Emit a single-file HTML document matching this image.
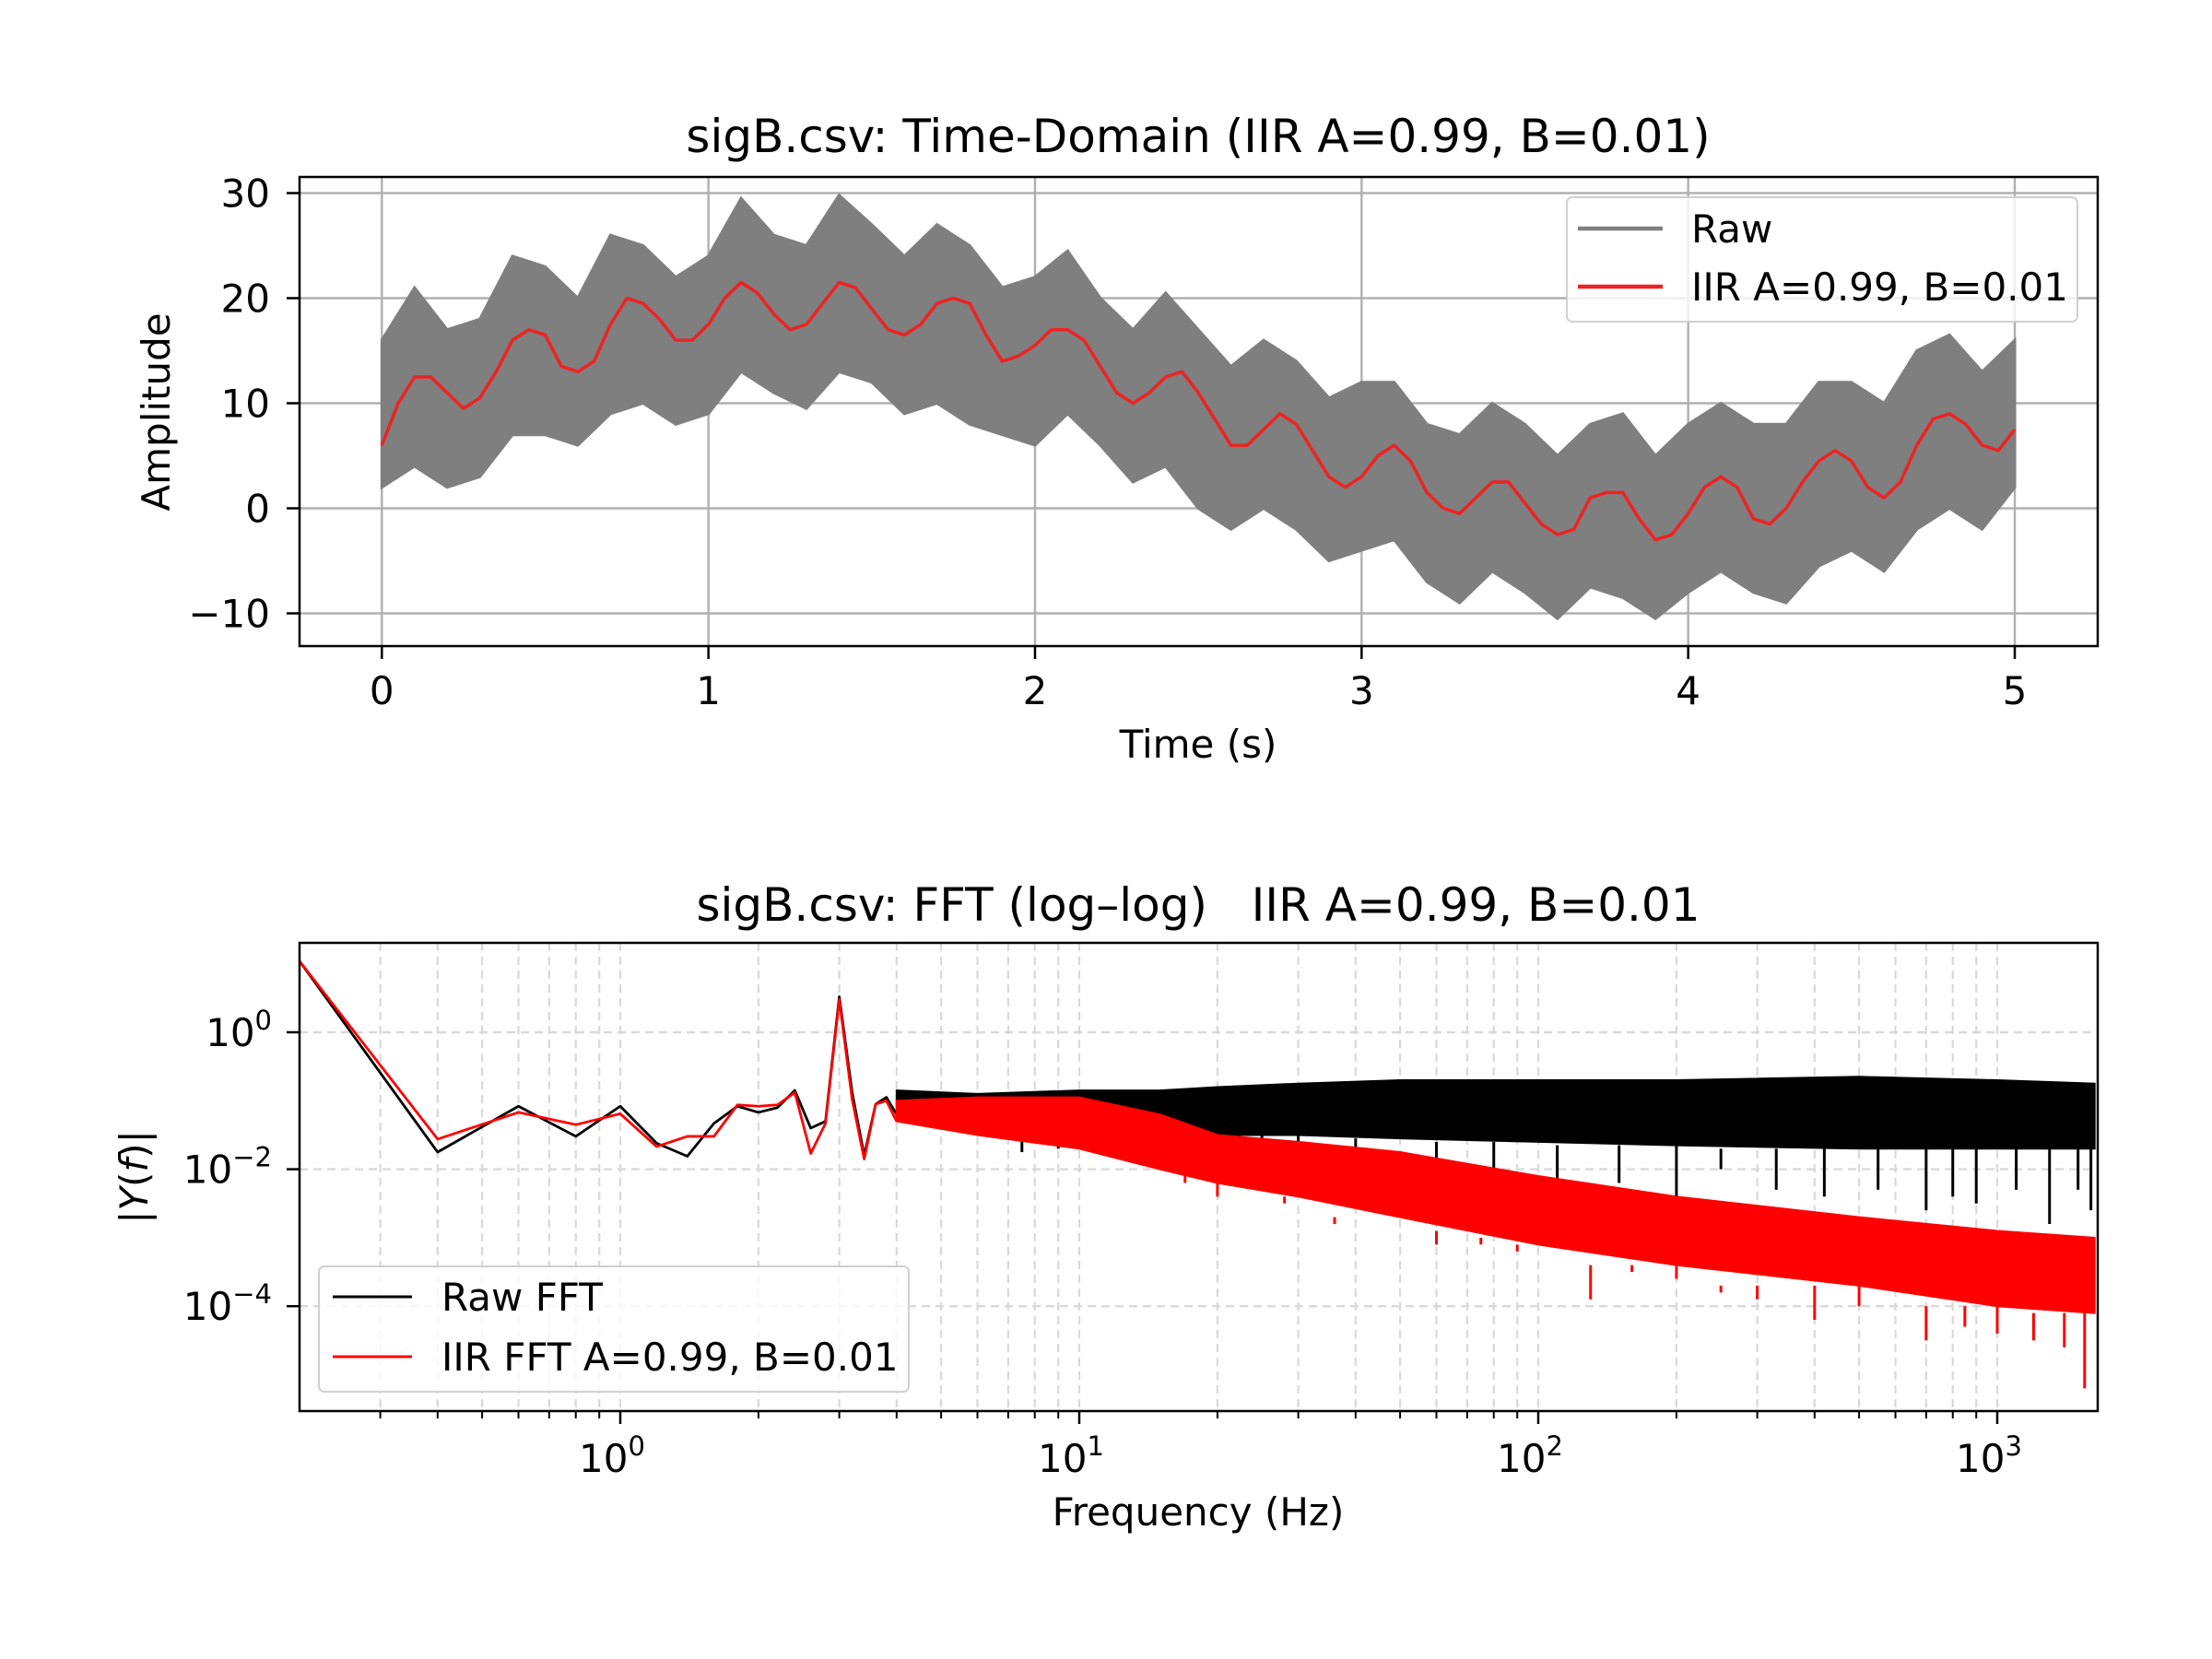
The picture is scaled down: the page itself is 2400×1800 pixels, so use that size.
<!DOCTYPE html>
<html><head><meta charset="utf-8"><style>
html,body{margin:0;padding:0;background:#fff}
svg{display:block;font-family:"DejaVu Sans","Liberation Sans",sans-serif}
</style></head><body>
<svg id="fig" width="2400" height="1800" viewBox="0 0 2400 1800" xmlns="http://www.w3.org/2000/svg">
<rect width="2400" height="1800" fill="#fff"/>
<g id="topchart"></g>
<g id="botchart"></g>
</svg>
<script>
// ---------- time-domain data ----------
const timeTicks = [0,1,2,3,4,5];
const ampTicks = [30,20,10,0,-10];
const iirStep = 0.05;
const iirValues = [6,10,12.5,12.5,11,9.5,10.5,13,16,17,16.5,13.5,13,14,17.5,20,19.5,18,16,16,17.5,20,21.5,20.5,18.5,17,17.5,19.5,21.5,21,19,17,16.5,17.5,19.5,20,19.5,16.5,14,14.5,15.5,17,17,16,13.5,11,10,11,12.5,13,11,8.5,6,6,7.5,9,8,5.5,3,2,3,5,6,4.5,1.5,0,-0.5,1,2.5,2.5,0.5,-1.5,-2.5,-2,1,1.5,1.5,-1,-3,-2.5,-0.5,2,3,2,-1,-1.5,0,2.5,4.5,5.5,4.5,2,1,2.5,6,8.5,9,8,6,5.5,7.5];
const rawStep = 0.1;
const rawUpper = [16,21,17,18,24,23,20,26,25,22,24,29.5,26,25,29.8,27,24,27,25,21,22,24.5,20,17,20.5,17,13.5,16,14,10.5,12,12,8,7,10,8,5,8,9,5,8,10,8,8,12,12,10,15,16.5,13,16];
const rawLower = [2,4,2,3,7,7,6,9,10,8,9,13,11,9.5,13,12,9,10,8,7,6,9,6,2.5,4,0,-2,0,-2,-5,-4,-3,-7,-9,-6,-8,-10.5,-7.5,-8.5,-10.5,-8,-6,-8,-9,-5.5,-4,-6,-2,0,-2,2];

// ---------- FFT data (log10 magnitudes) ----------
const freqTicks = [0,1,2,3];
const magTicks = [0,-2,-4];
const lowFreqs = [0.2,0.4,0.6,0.8,1.0,1.2,1.4,1.6,1.8,2.0,2.2,2.4,2.6,2.8,3.0,3.2,3.4,3.6,3.8,4.0];
const rawLow = [1.04,-1.75,-1.08,-1.52,-1.08,-1.62,-1.81,-1.33,-1.08,-1.17,-1.1,-0.85,-1.4,-1.3,0.52,-0.88,-1.8,-1.05,-0.95,-1.2];
const iirLow = [1.04,-1.56,-1.17,-1.35,-1.19,-1.67,-1.52,-1.52,-1.06,-1.08,-1.06,-0.88,-1.77,-1.33,0.48,-0.98,-1.85,-1.05,-1.0,-1.3];
const bandFreqs = [4,6,10,15,20,30,50,100,200,500,1000,1630];
const rawBandTop = [-0.85,-0.9,-0.85,-0.85,-0.8,-0.75,-0.7,-0.7,-0.7,-0.65,-0.7,-0.75];
const rawBandBottom = [-1.3,-1.35,-1.45,-1.45,-1.5,-1.5,-1.55,-1.6,-1.65,-1.7,-1.7,-1.7];
const iirBandTop = [-1.0,-0.95,-0.95,-1.2,-1.5,-1.6,-1.75,-2.1,-2.4,-2.7,-2.9,-3.0];
const iirBandBottom = [-1.3,-1.5,-1.7,-2.0,-2.2,-2.4,-2.7,-3.1,-3.4,-3.7,-4.0,-4.1];
const rawDipFreqs = [7.5,9,12,18,25,30,40,60,80,110,150,200,250,330,420,550,700,800,900,1100,1300,1500,1600];
const rawDipValues = [-1.75,-1.7,-1.8,-1.9,-2.0,-2.0,-2.1,-2.1,-2.2,-2.3,-2.2,-2.4,-2.0,-2.3,-2.4,-2.3,-2.6,-2.4,-2.5,-2.3,-2.8,-2.3,-2.6];
const iirDipFreqs = [17,20,28,36,45,60,75,90,130,160,200,250,300,400,500,700,850,1000,1200,1400,1550];
const iirDipValues = [-2.1,-2.4,-2.5,-2.8,-2.7,-2.9,-3.0,-3.2,-3.9,-3.5,-3.6,-3.8,-3.9,-4.2,-4.0,-4.5,-4.3,-4.4,-4.5,-4.6,-5.2];

const NS='http://www.w3.org/2000/svg';
function mk(parent,tag,attrs,text){const e=document.createElementNS(NS,tag);for(const k in attrs)e.setAttribute(k,attrs[k]);if(text!==undefined)e.textContent=text;parent.appendChild(e);return e;}

// ---------- top chart ----------
const T={l:325,r:2276,t:192,b:701};
const tx=v=>414.3+v*(2186-414.3)/5;
const ty=v=>551.5-v*11.4;
const topG=document.getElementById('topchart');
const gridT=mk(topG,'g',{});


timeTicks.forEach(t=>mk(gridT,'line',{x1:tx(t),x2:tx(t),y1:T.t,y2:T.b,stroke:'#b0b0b0','stroke-width':2.4}));
ampTicks.forEach(a=>mk(gridT,'line',{x1:T.l,x2:T.r,y1:ty(a),y2:ty(a),stroke:'#b0b0b0','stroke-width':2.4}));
let pts=[];
rawUpper.forEach((v,i)=>pts.push(tx(i*rawStep)+','+ty(v)));
for(let i=rawLower.length-1;i>=0;i--)pts.push(tx(i*rawStep)+','+ty(rawLower[i]));
const rawBand=mk(topG,'polygon',{points:pts.join(' '),fill:'#7f7f7f',stroke:'#7f7f7f','stroke-width':3});


const iirLine=mk(topG,'polyline',{points:iirValues.map((v,i)=>tx(i*iirStep)+','+ty(v)).join(' '),fill:'none',stroke:'#ee2222','stroke-width':3.5,'stroke-linejoin':'round'});


mk(topG,'rect',{x:T.l,y:T.t,width:T.r-T.l,height:T.b-T.t,fill:'none',stroke:'#000','stroke-width':2.5});
timeTicks.forEach(t=>{mk(topG,'line',{x1:tx(t),x2:tx(t),y1:T.b,y2:T.b+14,stroke:'#000','stroke-width':2.5});
 const l=mk(topG,'text',{x:tx(t),y:T.b+63,'font-size':42,'text-anchor':'middle'},String(t));
 
 });
ampTicks.forEach(a=>{mk(topG,'line',{x1:T.l-14,x2:T.l,y1:ty(a),y2:ty(a),stroke:'#000','stroke-width':2.5});
 const l=mk(topG,'text',{x:T.l-32,y:ty(a)+15,'font-size':42,'text-anchor':'end'},a<0?'\u2212'+(-a):String(a));
 
 });
topG.insertAdjacentHTML('beforeend',`
<text x="1300" y="165" font-size="50" text-anchor="middle">sigB.csv: Time-Domain (IIR A=0.99, B=0.01)</text>
<text x="1300" y="822" font-size="42" text-anchor="middle">Time (s)</text>
<text x="0" y="0" font-size="42" text-anchor="middle" transform="translate(184,447) rotate(-90)">Amplitude</text>
<g>
<rect x="1700" y="214" width="554" height="135" rx="6" fill="#fff" fill-opacity="0.8" stroke="#d0d0d0" stroke-width="2"/>
<line x1="1712" x2="1804" y1="248" y2="248" stroke="#7f7f7f" stroke-width="4.5"/>
<text x="1835" y="263" font-size="42">Raw</text>
<line x1="1712" x2="1804" y1="311" y2="311" stroke="#ee2222" stroke-width="4.5"/>
<text x="1835" y="326" font-size="42">IIR A=0.99, B=0.01</text>
</g>`);

// ---------- bottom chart ----------
const B={l:325,r:2276,t:1023,b:1531};
const fx=f=>673+Math.log10(f)*498;
const fy=lv=>1120-lv*74.3;
const botG=document.getElementById('botchart');
const gridB=mk(botG,'g',{});


for(let d=-1;d<=3;d++)for(let m=1;m<=9;m++){const f=m*Math.pow(10,d);const x=fx(f);if(x<B.l+2||x>B.r)continue;
 mk(gridB,'line',{x1:x,x2:x,y1:B.t,y2:B.b,stroke:'#d9d9d9','stroke-width':2.2,'stroke-dasharray':'9,6'});
 mk(botG,'line',{x1:x,x2:x,y1:B.b,y2:B.b+(m===1?14:8),stroke:'#000','stroke-width':m===1?2.5:2});}
magTicks.forEach(v=>mk(gridB,'line',{x1:B.l,x2:B.r,y1:fy(v),y2:fy(v),stroke:'#d9d9d9','stroke-width':2.4,'stroke-dasharray':'9,6'}));
const clip=mk(botG,'clipPath',{id:'bclip'});
mk(clip,'rect',{x:B.l,y:B.t,width:B.r-B.l,height:B.b-B.t});
const plotB=mk(botG,'g',{'clip-path':'url(#bclip)'});
function interpIdx(f){let j=bandFreqs.findIndex(b=>b>=f);return j<0?bandFreqs.length-1:j;}
function band(bt,bb,dipF,dipV,color,name){
 const p=[];bandFreqs.forEach((f,i)=>p.push(fx(f)+','+fy(bt[i])));
 for(let i=bandFreqs.length-1;i>=0;i--)p.push(fx(bandFreqs[i])+','+fy(bb[i]));
 const e=mk(plotB,'polygon',{points:p.join(' '),fill:color,stroke:color,'stroke-width':2});
 
 
 dipF.forEach((f,i)=>{const j=interpIdx(f);const d=mk(plotB,'line',{x1:fx(f),x2:fx(f),y1:fy(bb[j]),y2:fy(dipV[i]),stroke:color,'stroke-width':3});
  
  });
}
function lowLine(vals,color,name){const e=mk(plotB,'polyline',{points:vals.map((v,i)=>fx(lowFreqs[i])+','+fy(v)).join(' '),fill:'none',stroke:color,'stroke-width':2.8,'stroke-linejoin':'round'});
 
 }
band(rawBandTop,rawBandBottom,rawDipFreqs,rawDipValues,'#000','raw-fft-band');
lowLine(rawLow,'#000','raw-fft-line');
band(iirBandTop,iirBandBottom,iirDipFreqs,iirDipValues,'#ff0000','iir-fft-band');
lowLine(iirLow,'#ff0000','iir-fft-line');
mk(botG,'rect',{x:B.l,y:B.t,width:B.r-B.l,height:B.b-B.t,fill:'none',stroke:'#000','stroke-width':2.5});
freqTicks.forEach(d=>{const t=mk(botG,'text',{x:fx(Math.pow(10,d))-9,y:B.b+66,'font-size':42,'text-anchor':'middle'});
 
 
 t.innerHTML='10<tspan dy="-18" font-size="29">'+d+'</tspan>';});
magTicks.forEach(v=>{mk(botG,'line',{x1:B.l-14,x2:B.l,y1:fy(v),y2:fy(v),stroke:'#000','stroke-width':2.5});
 const t=mk(botG,'text',{x:B.l-30,y:fy(v)+15,'font-size':42,'text-anchor':'end'});
 
 
 t.innerHTML='10<tspan dy="-18" font-size="29">'+(v<0?'\u2212'+(-v):v)+'</tspan>';});
botG.insertAdjacentHTML('beforeend',`
<text x="1300" y="999" font-size="50" text-anchor="middle" xml:space="preserve">sigB.csv: FFT (log\u2013log)   IIR A=0.99, B=0.01</text>
<text x="1300" y="1655" font-size="42" text-anchor="middle">Frequency (Hz)</text>
<text x="0" y="0" font-size="42" text-anchor="middle" transform="translate(160,1277) rotate(-90)">|<tspan font-style="italic">Y</tspan>(<tspan font-style="italic">f</tspan>)|</text>
<g>
<rect x="346" y="1374" width="640" height="136" rx="6" fill="#fff" fill-opacity="0.8" stroke="#d0d0d0" stroke-width="2"/>
<line x1="361" x2="447" y1="1407" y2="1407" stroke="#000" stroke-width="3"/>
<text x="479" y="1422" font-size="42">Raw FFT</text>
<line x1="361" x2="447" y1="1472" y2="1472" stroke="#ff0000" stroke-width="3"/>
<text x="479" y="1487" font-size="42">IIR FFT A=0.99, B=0.01</text>
</g>`);
</script>
</body></html>
